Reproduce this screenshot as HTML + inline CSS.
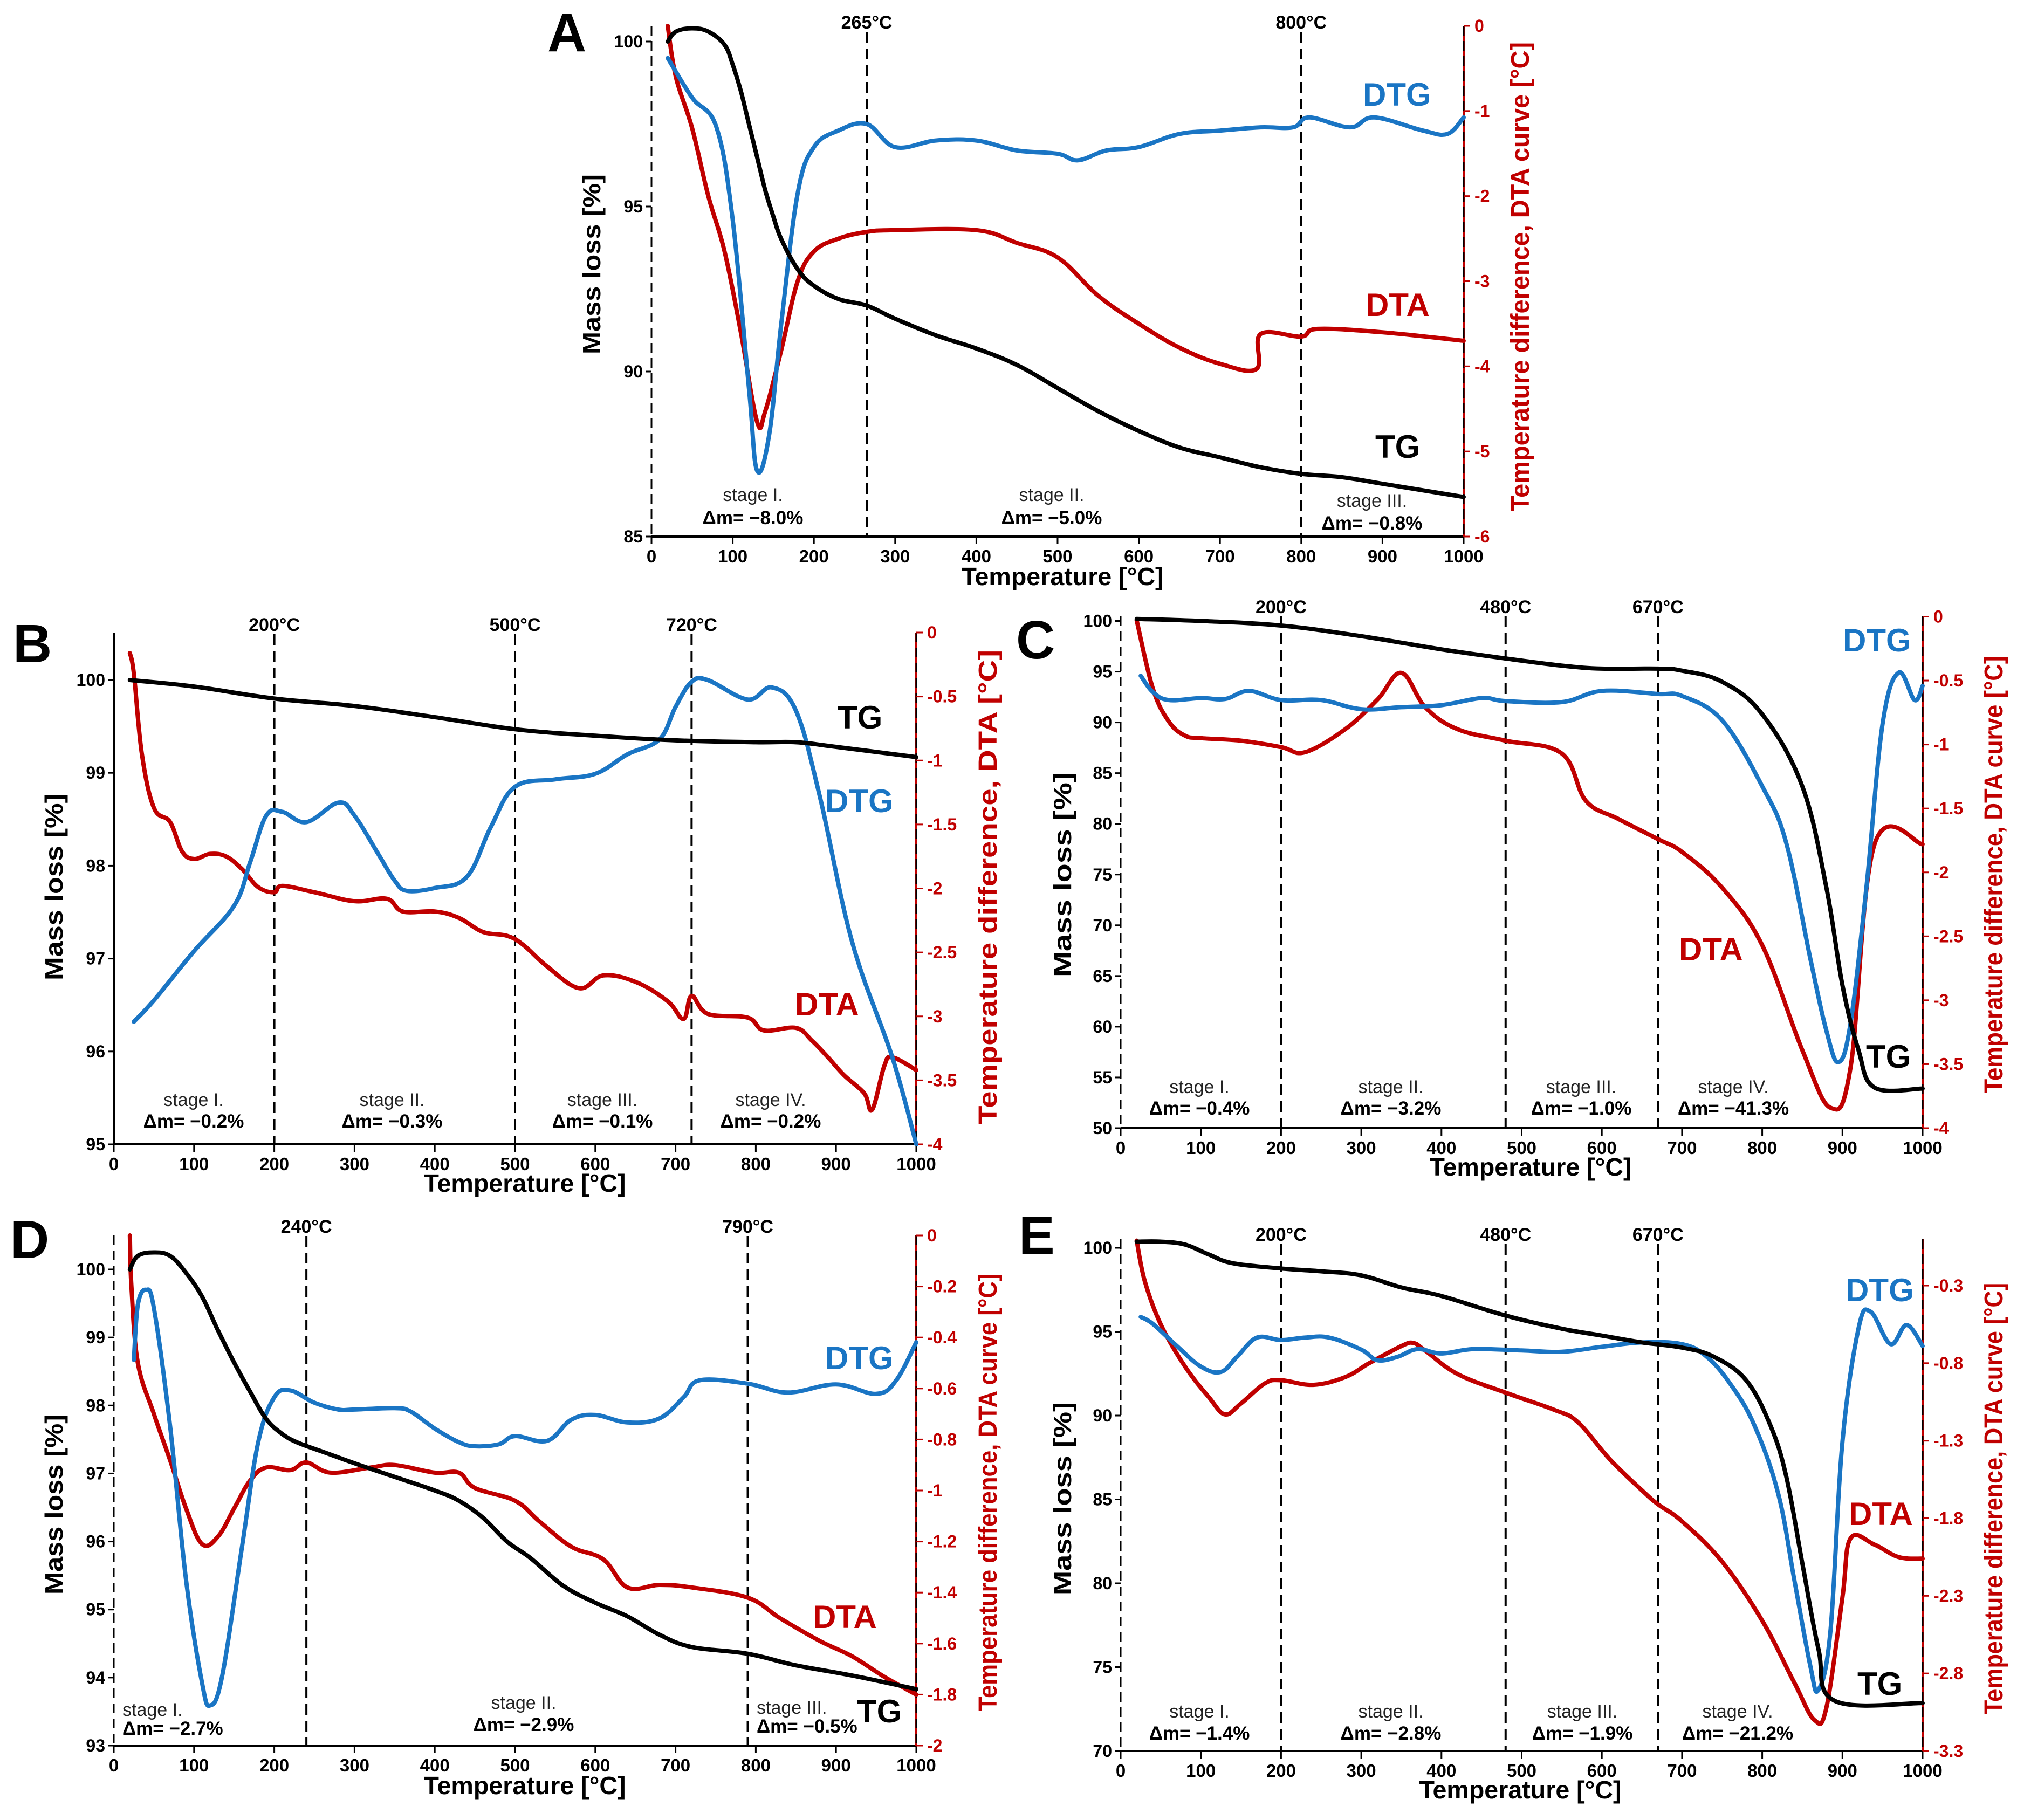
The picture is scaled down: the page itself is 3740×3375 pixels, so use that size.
<!DOCTYPE html>
<html><head><meta charset="utf-8"><title>TG / DTG / DTA curves, panels A–E</title>
<style>
html,body{margin:0;padding:0;background:#fff;}
svg{display:block;font-family:"Liberation Sans Narrow","Liberation Sans",sans-serif;}
</style></head>
<body>
<svg id="fig" xmlns="http://www.w3.org/2000/svg" width="3740" height="3375" viewBox="0 0 3740 3375"></svg>
<script>
// ---------- DATA ----------
// Panel A
const A_tgT=[20,30,50,70,90,100,110,120,130,140,150,160,180,200,230,265,300,350,400,450,500,550,600,650,700,750,800,850,900,950,1000];
const A_tgV=[100,100.3,100.4,100.3,99.9,99.3,98.5,97.5,96.5,95.5,94.7,94,93.1,92.6,92.2,92.0,91.6,91.1,90.7,90.2,89.5,88.8,88.2,87.7,87.4,87.1,86.9,86.8,86.6,86.4,86.2];
const A_dtgT=[20,50,80,100,120,130,145,160,180,200,230,265,300,350,400,450,500,525,560,600,650,700,750,790,810,860,890,950,980,1000];
const A_dtgV=[99.5,98.3,97.4,94.6,89.5,87.0,88.1,91.5,95.4,96.8,97.3,97.5,96.8,97.0,97.0,96.7,96.6,96.4,96.7,96.8,97.2,97.3,97.4,97.4,97.7,97.4,97.7,97.3,97.2,97.7];
const A_dtaT=[20,30,50,70,90,110,130,140,160,180,200,230,265,300,400,450,500,550,600,650,700,745,750,800,820,900,1000];
const A_dtaV=[0,-0.6,-1.2,-2.0,-2.65,-3.6,-4.65,-4.53,-3.8,-3.0,-2.65,-2.5,-2.42,-2.4,-2.4,-2.55,-2.72,-3.17,-3.5,-3.78,-3.97,-4.03,-3.62,-3.65,-3.56,-3.6,-3.7];
// Panel B
const B_tgT=[20,100,200,300,400,500,600,700,800,850,900,1000];
const B_tgV=[100,99.93,99.8,99.72,99.6,99.47,99.4,99.35,99.33,99.33,99.28,99.17];
const B_dtgT=[25,50,100,150,170,190,210,240,280,300,330,350,365,400,440,470,500,550,600,640,680,700,720,740,790,820,850,880,920,970,1000];
const B_dtgV=[96.32,96.55,97.08,97.57,98.04,98.54,98.58,98.47,98.68,98.54,98.12,97.84,97.73,97.76,97.88,98.42,98.85,98.93,98.99,99.2,99.36,99.71,99.98,100.0,99.79,99.92,99.67,98.74,97.18,95.94,95.0];
const B_dtaT=[20,25,35,50,70,85,100,120,140,160,180,200,210,250,300,340,360,400,430,460,490,510,540,580,610,650,690,710,720,740,790,810,850,870,890,910,935,945,960,970,1000];
const B_dtaV=[-0.16,-0.32,-0.95,-1.37,-1.48,-1.71,-1.77,-1.73,-1.75,-1.85,-1.99,-2.03,-1.98,-2.03,-2.1,-2.08,-2.18,-2.18,-2.23,-2.34,-2.37,-2.44,-2.61,-2.78,-2.68,-2.73,-2.88,-3.02,-2.84,-2.98,-3.01,-3.11,-3.09,-3.19,-3.32,-3.46,-3.6,-3.73,-3.39,-3.32,-3.42];
// Panel C
const C_tgT=[20,100,200,300,400,480,550,600,670,700,750,800,850,880,900,920,940,1000];
const C_tgV=[100.2,100,99.55,98.5,97.2,96.3,95.6,95.3,95.3,95.1,94,90.8,83.7,73.7,64.1,57.7,54.0,53.9];
const C_dtgT=[25,40,60,100,130,160,200,250,300,350,400,450,480,550,600,670,700,750,800,830,860,880,895,910,930,950,970,990,1000];
const C_dtgV=[94.6,93,92.2,92.4,92.3,93.1,92.2,92.2,91.3,91.5,91.7,92.4,92.1,92,93.1,92.8,92.6,90.2,83.7,78.1,66.7,59.6,56.5,60.3,73.8,89.8,94.9,92.2,93.6];
const C_dtaT=[20,40,60,80,100,150,200,230,280,320,350,380,420,480,550,580,620,670,700,750,800,850,885,910,940,1000];
const C_dtaV=[-0.03,-0.56,-0.82,-0.93,-0.95,-0.97,-1.02,-1.06,-0.88,-0.65,-0.44,-0.71,-0.88,-0.97,-1.07,-1.44,-1.58,-1.74,-1.84,-2.12,-2.57,-3.39,-3.84,-3.53,-1.78,-1.78];
// Panel D
const D_tgT=[20,30,50,70,90,110,130,150,170,190,210,230,265,300,350,400,430,460,490,520,560,600,640,680,720,790,850,920,1000];
const D_tgV=[100,100.2,100.25,100.2,99.95,99.6,99.1,98.63,98.2,97.8,97.58,97.45,97.3,97.15,96.95,96.75,96.6,96.35,96.0,95.75,95.35,95.1,94.9,94.63,94.45,94.35,94.18,94.03,93.83];
const D_dtgT=[25,30,40,50,70,90,110,120,135,160,180,200,220,250,280,300,350,370,400,430,450,480,500,540,570,600,640,680,710,730,790,840,900,950,975,1000];
const D_dtgV=[98.67,99.48,99.7,99.43,97.71,95.44,93.92,93.59,94.02,95.94,97.46,98.12,98.22,98.04,97.94,97.94,97.96,97.91,97.66,97.46,97.4,97.43,97.55,97.48,97.79,97.86,97.75,97.81,98.12,98.37,98.32,98.19,98.31,98.17,98.37,98.93];
const D_dtaT=[20,22,30,50,70,90,110,130,150,170,190,220,240,270,320,350,400,430,450,500,530,570,610,640,680,720,790,830,880,920,960,1000];
const D_dtaV=[0,-0.2,-0.5,-0.7,-0.88,-1.07,-1.21,-1.18,-1.07,-0.96,-0.91,-0.92,-0.89,-0.93,-0.91,-0.9,-0.93,-0.93,-0.99,-1.04,-1.12,-1.22,-1.27,-1.38,-1.37,-1.38,-1.42,-1.5,-1.59,-1.65,-1.73,-1.8];
// Panel E
const E_tgT=[20,50,80,110,140,200,250,300,350,400,480,550,600,650,700,740,780,810,830,850,870,890,1000];
const E_tgV=[100.37,100.37,100.2,99.6,99.08,98.77,98.6,98.36,97.64,97.13,95.96,95.18,94.77,94.36,94.05,93.5,92.1,89.43,86.36,81.2,76.1,73.0,72.86];
const E_dtgT=[25,40,70,100,125,145,170,200,230,260,300,320,345,370,400,440,500,550,600,650,700,730,760,790,820,840,860,870,885,900,920,935,960,980,1000];
const E_dtgV=[95.88,95.47,94.15,92.92,92.6,93.5,94.65,94.5,94.65,94.65,93.93,93.3,93.5,93.96,93.7,93.96,93.88,93.8,94.1,94.36,94.26,93.54,91.9,89.44,85.33,80.2,75.06,73.64,77.13,88.42,95.18,96.2,94.26,95.4,94.15];
const E_dtaT=[20,30,50,80,110,130,150,180,200,240,280,310,350,365,380,420,480,540,570,610,650,670,700,750,800,840,865,880,900,910,940,970,1000];
const E_dtaV=[-0.01,-0.27,-0.55,-0.82,-1.02,-1.13,-1.06,-0.93,-0.91,-0.94,-0.89,-0.8,-0.69,-0.67,-0.72,-0.87,-0.99,-1.1,-1.18,-1.42,-1.62,-1.71,-1.82,-2.08,-2.46,-2.86,-3.1,-3.02,-2.31,-1.93,-1.97,-2.05,-2.06];

const xTicks=[0,100,200,300,400,500,600,700,800,900,1000];
const A_leftTicks=[85,90,95,100], A_rightTicks=[0,-1,-2,-3,-4,-5,-6];
const B_leftTicks=[95,96,97,98,99,100], B_rightTicks=[0,-0.5,-1,-1.5,-2,-2.5,-3,-3.5,-4];
const C_leftTicks=[50,55,60,65,70,75,80,85,90,95,100], C_rightTicks=[0,-0.5,-1,-1.5,-2,-2.5,-3,-3.5,-4];
const D_leftTicks=[93,94,95,96,97,98,99,100], D_rightTicks=[0,-0.2,-0.4,-0.6,-0.8,-1,-1.2,-1.4,-1.6,-1.8,-2];
const E_leftTicks=[70,75,80,85,90,95,100], E_rightTicks=[-0.3,-0.8,-1.3,-1.8,-2.3,-2.8,-3.3];
const A_markers=[265,800], B_markers=[200,500,720], C_markers=[200,480,670], D_markers=[240,790], E_markers=[200,480,670];
const A_stages=["−8.0%","−5.0%","−0.8%"], B_stages=["−0.2%","−0.3%","−0.1%","−0.2%"], C_stages=["−0.4%","−3.2%","−1.0%","−41.3%"], D_stages=["−2.7%","−2.9%","−0.5%"], E_stages=["−1.4%","−2.8%","−1.9%","−21.2%"];
const stageNames=["stage I.","stage II.","stage III.","stage IV."];

// ---------- DRAWING ----------
const NS="http://www.w3.org/2000/svg";
const svg=document.getElementById('fig');
function el(tag,attrs,parent){const e=document.createElementNS(NS,tag);for(const k in attrs)e.setAttribute(k,attrs[k]);(parent||svg).appendChild(e);return e;}
function txt(s,attrs,parent){const e=el('text',attrs,parent);e.textContent=s;return e;}

const BLUE="#1a75c4", RED="#c00000", BLACK="#000";
const panels=[
 {id:'a',letter:'A',x0:1208,x1:2714,top:48,bot:995,lv:[100,77,85,995],rv:[0,48,-6,995],
  tg:[A_tgT,A_tgV],dtg:[A_dtgT,A_dtgV],dta:[A_dtaT,A_dtaV],lt:A_leftTicks,rt:A_rightTicks,mk:A_markers,st:A_stages,
  letterPos:[1015,95],mkY:53,leftDashed:true,
  lbl:{DTG:[2527,196],DTA:[2532,586],TG:[2550,849]},
  stagePos:[[1396,929,972],[1950,929,972],[2544,940,982]],
  ytitle:[1097,490,334],rtitle:[2819,513,870,"Temperature  difference,  DTA curve [°C]"],xtitle:[1970,1085]},
 {id:'b',letter:'B',x0:211,x1:1699,top:1173,bot:2122,lv:[100,1261,95,2122],rv:[0,1173,-4,2122],
  tg:[B_tgT,B_tgV],dtg:[B_dtgT,B_dtgV],dta:[B_dtaT,B_dtaV],lt:B_leftTicks,rt:B_rightTicks,mk:B_markers,st:B_stages,
  letterPos:[24,1228],mkY:1170,leftDashed:false,
  lbl:{TG:[1553,1351],DTG:[1530,1506],DTA:[1474,1883]},
  stagePos:[[359,2051,2091],[727,2051,2091],[1117,2051,2091],[1429,2051,2091]],
  ytitle:[100,1645,346],rtitle:[1832,1645,880,"Temperature  difference,  DTA [°C]"],xtitle:[973,2210]},
 {id:'c',letter:'C',x0:2078,x1:3565,top:1143,bot:2092,lv:[100,1151.5,50,2092],rv:[0,1143.5,-4,2092],
  tg:[C_tgT,C_tgV],dtg:[C_dtgT,C_dtgV],dta:[C_dtaT,C_dtaV],lt:C_leftTicks,rt:C_rightTicks,mk:C_markers,st:C_stages,
  letterPos:[1884,1221],mkY:1137,leftDashed:true,
  lbl:{DTG:[3417,1208],DTA:[3113,1781],TG:[3460,1980]},
  stagePos:[[2224,2027,2067],[2579,2027,2067],[2932,2027,2067],[3214,2027,2067]],
  ytitle:[1970,1622,380],rtitle:[3697,1622,811,"Temperature  difference,  DTA curve [°C]"],xtitle:[2838,2180]},
 {id:'d',letter:'D',x0:211,x1:1699,top:2291,bot:3237,lv:[100,2354,93,3237],rv:[0,2291,-2,3237],
  tg:[D_tgT,D_tgV],dtg:[D_dtgT,D_dtgV],dta:[D_dtaT,D_dtaV],lt:D_leftTicks,rt:D_rightTicks,mk:D_markers,st:D_stages,
  letterPos:[19,2333],mkY:2286,leftDashed:true,
  lbl:{DTG:[1530,2539],DTA:[1507,3019],TG:[1589,3194]},
  stagePos:[[227,3182,3217,'start'],[971,3169,3210,'middle'],[1403,3178,3213,'start']],
  ytitle:[100,2790,334],rtitle:[1832,2767,811,"Temperature  difference,  DTA curve [°C]"],xtitle:[973,3327]},
 {id:'e',letter:'E',x0:2078,x1:3565,top:2298,bot:3247,lv:[100,2314,70,3247],rv:[-0.3,2384,-3.3,3247],
  tg:[E_tgT,E_tgV],dtg:[E_dtgT,E_dtgV],dta:[E_dtaT,E_dtaV],lt:E_leftTicks,rt:E_rightTicks,mk:E_markers,st:E_stages,
  letterPos:[1889,2325],mkY:2301,leftDashed:true,
  lbl:{DTG:[3422,2413],DTA:[3428,2828],TG:[3444,3143]},
  stagePos:[[2224,3185,3226],[2579,3185,3226],[2934,3185,3226],[3222,3185,3226]],
  ytitle:[1970,2779,358],rtitle:[3697,2779,800,"Temperature  difference,  DTA curve [°C]"],xtitle:[2819,3335]}
];

function smoothPath(pts){
  let d='M'+pts[0][0].toFixed(1)+','+pts[0][1].toFixed(1);
  for(let i=0;i<pts.length-1;i++){
    const p0=pts[Math.max(0,i-1)],p1=pts[i],p2=pts[i+1],p3=pts[Math.min(pts.length-1,i+2)];
    const t=0.18;
    const c1x=p1[0]+(p2[0]-p0[0])*t, c1y=p1[1]+(p2[1]-p0[1])*t;
    const c2x=p2[0]-(p3[0]-p1[0])*t, c2y=p2[1]-(p3[1]-p1[1])*t;
    d+=' C'+c1x.toFixed(1)+','+c1y.toFixed(1)+' '+c2x.toFixed(1)+','+c2y.toFixed(1)+' '+p2[0].toFixed(1)+','+p2[1].toFixed(1);
  }
  return d;
}

panels.forEach(p=>{
  const g=el('g',{});
  
  
  const X=t=>p.x0+(t/1000)*(p.x1-p.x0);
  const YL=v=>p.lv[1]+(v-p.lv[0])*(p.lv[3]-p.lv[1])/(p.lv[2]-p.lv[0]);
  const YR=v=>p.rv[1]+(v-p.rv[0])*(p.rv[3]-p.rv[1])/(p.rv[2]-p.rv[0]);

  const L=txt(p.letter,{x:p.letterPos[0],y:p.letterPos[1],'font-size':100,'font-weight':'bold','font-family':'"Liberation Sans",sans-serif'},g);
  
  

  const xa=el('line',{x1:p.x0,y1:p.bot,x2:p.x1,y2:p.bot,stroke:BLACK,'stroke-width':4},g);
  
  
  xTicks.forEach(t=>{
    el('line',{x1:X(t),y1:p.bot,x2:X(t),y2:p.bot+14,stroke:BLACK,'stroke-width':3},g);
    const tl=txt(String(t),{x:X(t),y:p.bot+48,'font-size':33,'font-weight':'bold','text-anchor':'middle'},g);
    
    
  });
  const xt=txt('Temperature [°C]',{x:p.xtitle[0],y:p.xtitle[1],'font-size':46,'font-weight':'bold','text-anchor':'middle','font-family':'"Liberation Sans",sans-serif',textLength:375,lengthAdjust:'spacingAndGlyphs'},g);
  
  

  const la=el('line',{x1:p.x0,y1:p.top,x2:p.x0,y2:p.bot,stroke:BLACK,'stroke-width':p.leftDashed?3:4,'stroke-dasharray':p.leftDashed?'18,10':'none'},g);
  
  
  p.lt.forEach(v=>{
    el('line',{x1:p.x0-10,y1:YL(v),x2:p.x0,y2:YL(v),stroke:BLACK,'stroke-width':3},g);
    const tl=txt(String(v),{x:p.x0-16,y:YL(v)+11,'font-size':32,'font-weight':'bold','text-anchor':'end'},g);
    
    
  });
  const yt=txt('Mass loss [%]',{x:0,y:0,'font-size':46,'font-weight':'bold','text-anchor':'middle','font-family':'"Liberation Sans",sans-serif',textLength:p.ytitle[2],lengthAdjust:'spacingAndGlyphs',transform:`translate(${p.ytitle[0]+16},${p.ytitle[1]}) rotate(-90)`},g);
  
  

  const ra=el('line',{x1:p.x1,y1:p.top,x2:p.x1,y2:p.bot,stroke:RED,'stroke-width':4},g);
  
  
  el('line',{x1:p.x1,y1:p.top,x2:p.x1,y2:p.bot,stroke:BLACK,'stroke-width':3,'stroke-dasharray':'18,10'},g);
  p.rt.forEach(v=>{
    el('line',{x1:p.x1,y1:YR(v),x2:p.x1+12,y2:YR(v),stroke:RED,'stroke-width':3},g);
    const tl=txt(String(v),{x:p.x1+20,y:YR(v)+11,'font-size':32,'font-weight':'bold',fill:RED},g);
    
    
  });
  const rt=txt(p.rtitle[3],{x:0,y:0,'font-size':48,'font-weight':'bold',fill:RED,'text-anchor':'middle','font-family':'"Liberation Sans",sans-serif',textLength:p.rtitle[2],lengthAdjust:'spacingAndGlyphs',transform:`translate(${p.rtitle[0]+16},${p.rtitle[1]}) rotate(-90)`},g);
  
  

  p.mk.forEach(t=>{
    const ml=el('line',{x1:X(t),y1:p.mkY+6,x2:X(t),y2:p.bot,stroke:BLACK,'stroke-width':4,'stroke-dasharray':'20,11'},g);
    
    
    const mt=txt(t+'°C',{x:X(t),y:p.mkY,'font-size':34,'font-weight':'bold','text-anchor':'middle'},g);
    
    
  });

  p.st.forEach((s,i)=>{
    const sp=p.stagePos[i];
    const anc=sp[3]||'middle';
    const a=txt(stageNames[i],{x:sp[0],y:sp[1],'font-size':34,'text-anchor':anc,fill:'#222'},g);
    
    
    const b=txt('Δm= '+s,{x:sp[0],y:sp[2],'font-size':35,'font-weight':'bold','text-anchor':anc},g);
    
    
  });

  function series(ts,vs,ymap,color,name){
    const pts=ts.map((t,i)=>[X(t),ymap(vs[i])]);
    const path=el('path',{d:smoothPath(pts),fill:'none',stroke:color,'stroke-width':8,'stroke-linejoin':'round','stroke-linecap':'round'},g);
    
    
  }
  series(p.dta[0],p.dta[1],YR,RED,'dta-curve');
  series(p.dtg[0],p.dtg[1],YL,BLUE,'dtg-curve');
  series(p.tg[0],p.tg[1],YL,BLACK,'tg-curve');

  const cols={DTG:BLUE,DTA:RED,TG:BLACK};
  Object.keys(p.lbl).forEach(k=>{
    const c=txt(k,{x:p.lbl[k][0],y:p.lbl[k][1],'font-size':60,'font-weight':'bold',fill:cols[k],'font-family':'"Liberation Sans",sans-serif'},g);
    
    
  });
});
</script>
</body></html>
